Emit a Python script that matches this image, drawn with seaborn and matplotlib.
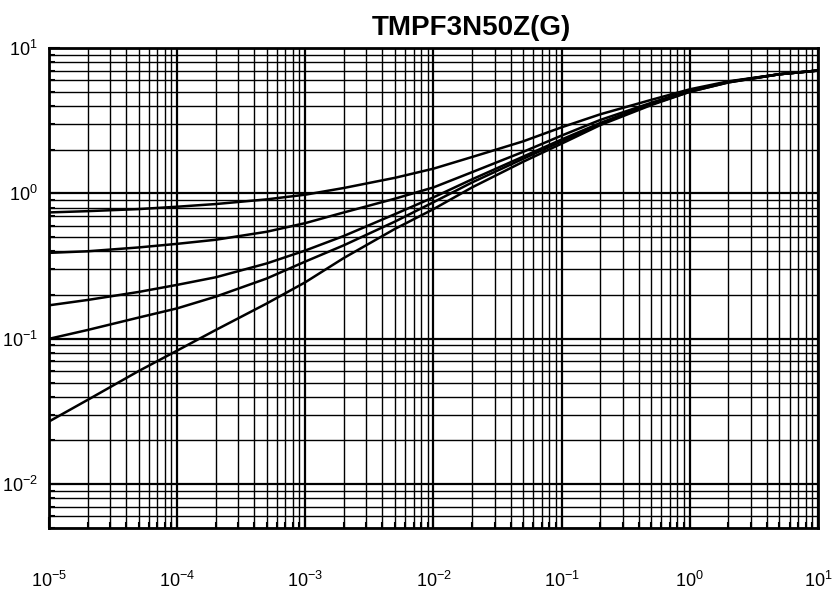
import numpy as np
import pandas as pd
import matplotlib
matplotlib.use('Agg')
import matplotlib.pyplot as plt
import seaborn as sns
from matplotlib.ticker import LogLocator, NullFormatter

# Pulse width (s) and transient thermal impedance
pulse_width = [1e-5, 2e-5, 5e-5, 1e-4, 2e-4, 5e-4, 1e-3, 2e-3, 5e-3,
               1e-2, 2e-2, 5e-2, 1e-1, 2e-1, 5e-1, 1.0, 2.0, 5.0, 10.0]
z_d050 = [0.74, 0.755, 0.78, 0.81, 0.845, 0.91, 0.98, 1.09, 1.28,
          1.48, 1.78, 2.28, 2.85, 3.50, 4.40, 5.20, 5.90, 6.60, 7.00]
z_d020 = [0.39, 0.40, 0.425, 0.45, 0.48, 0.545, 0.625, 0.74, 0.92,
          1.10, 1.40, 1.93, 2.50, 3.20, 4.20, 5.10, 5.85, 6.60, 7.00]
z_d010 = [0.17, 0.185, 0.21, 0.235, 0.265, 0.33, 0.405, 0.51, 0.72,
          0.94, 1.25, 1.79, 2.35, 3.05, 4.15, 5.05, 5.85, 6.60, 7.00]
z_d005 = [0.10, 0.115, 0.14, 0.162, 0.195, 0.26, 0.34, 0.44, 0.64,
          0.87, 1.19, 1.73, 2.28, 3.00, 4.10, 5.00, 5.80, 6.60, 7.00]
z_single = [0.027, 0.038, 0.06, 0.083, 0.115, 0.175, 0.245, 0.36, 0.57,
            0.78, 1.10, 1.65, 2.20, 2.95, 4.05, 5.00, 5.80, 6.60, 7.00]

curves = {'D=0.5': z_d050, 'D=0.2': z_d020, 'D=0.1': z_d010,
          'D=0.05': z_d005, 'Single pulse': z_single}

df = pd.concat([pd.DataFrame({'t': pulse_width, 'z': v, 'curve': k})
                for k, v in curves.items()], ignore_index=True)

sns.set_style('white')
plt.rcParams['font.family'] = ['Liberation Sans', 'DejaVu Sans']
plt.rcParams['mathtext.fontset'] = 'custom'
plt.rcParams['mathtext.rm'] = 'Liberation Sans'
plt.rcParams['mathtext.it'] = 'Liberation Sans'
plt.rcParams['mathtext.bf'] = 'Liberation Sans:bold'
plt.rcParams['axes.unicode_minus'] = False
plt.rcParams['text.color'] = 'black'
plt.rcParams['xtick.color'] = 'black'
plt.rcParams['ytick.color'] = 'black'

fig = plt.figure(figsize=(8.33, 5.94), dpi=100)
ax = fig.add_axes([49 / 833, 1 - 528 / 594, 769 / 833, 480 / 594])

sns.lineplot(data=df, x='t', y='z', hue='curve', palette=['black'] * 5,
             linewidth=1.8, legend=False, ax=ax, sort=False, estimator=None)

ax.set_xscale('log')
ax.set_yscale('log')
ax.set_xlim(1e-5, 10)
ax.set_ylim(0.005, 10)

ax.xaxis.set_major_locator(LogLocator(base=10, numticks=20))
ax.xaxis.set_minor_locator(LogLocator(base=10, subs=np.arange(2, 10), numticks=100))
ax.yaxis.set_major_locator(LogLocator(base=10, numticks=20))
ax.yaxis.set_minor_locator(LogLocator(base=10, subs=np.arange(2, 10), numticks=100))
ax.xaxis.set_minor_formatter(NullFormatter())
ax.yaxis.set_minor_formatter(NullFormatter())

ax.grid(which='major', color='black', linewidth=1.6)
ax.grid(which='minor', color='black', linewidth=1.0)
ax.set_axisbelow(True)

for s in ax.spines.values():
    s.set_color('black')
    s.set_linewidth(2.0)

ax.tick_params(which='both', direction='in', color='black', width=1.5,
               bottom=True, left=True, top=False, right=False)
ax.tick_params(which='major', length=8)
ax.tick_params(which='minor', length=4)
ax.tick_params(axis='x', which='major', labelsize=13, pad=31)
ax.tick_params(axis='y', which='major', labelsize=13, pad=8)

ax.set_xlabel('')
ax.set_ylabel('')

fig.text(471 / 833, 1 - 28 / 594, 'TMPF3N50Z(G)', ha='center', va='center',
         fontsize=20, fontweight='bold', color='black')

fig.savefig('out.png', dpi=100)
